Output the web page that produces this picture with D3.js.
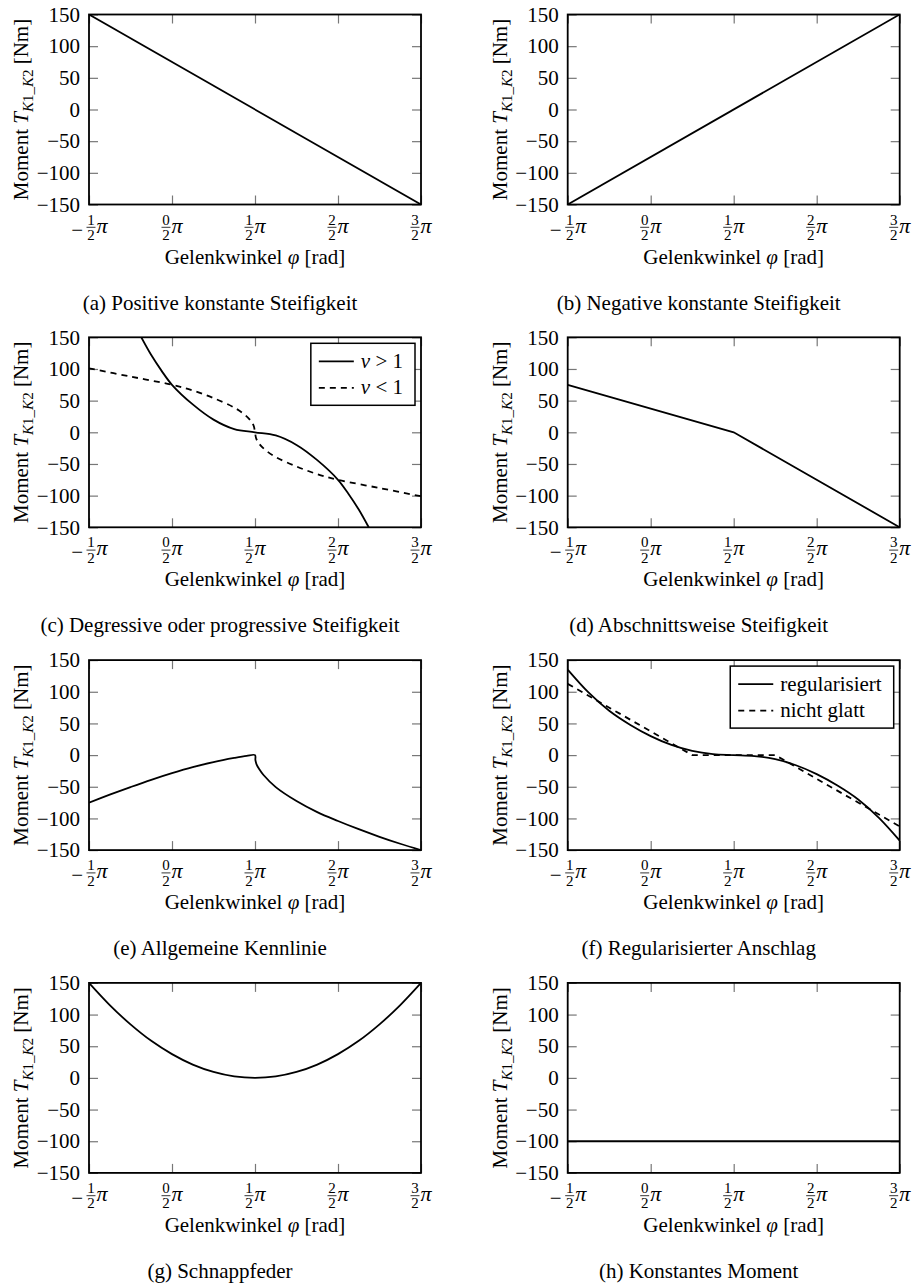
<!DOCTYPE html>
<html>
<head>
<meta charset="utf-8">
<script src="https://cdn.jsdelivr.net/npm/d3@7"></script>
<style>
  body { margin: 0; background: #fff; }
  text { font-family: "Liberation Serif", "Times New Roman", serif; fill: #000; }
</style>
</head>
<body>
<script>
// x in Vielfachen von pi/2, y in Nm
const xTicks = [-1, 0, 1, 2, 3]
const yTicks = [-150, -100, -50, 0, 50, 100, 150]

const captions = [
	'(a) Positive konstante Steifigkeit',
	'(b) Negative konstante Steifigkeit',
	'(c) Degressive oder progressive Steifigkeit',
	'(d) Abschnittsweise Steifigkeit',
	'(e) Allgemeine Kennlinie',
	'(f) Regularisierter Anschlag',
	'(g) Schnappfeder',
	'(h) Konstantes Moment'
]

const xA = [-1, 3]
const yA = [150, -150]

const xB = [-1, 3]
const yB = [-150, 150]

const xC1 = [-0.37, -0.25, -0.125, 0, 0.25, 0.5, 0.75, 1, 1.25, 1.5, 1.75, 2, 2.125, 2.25, 2.37]
const yC1 = [150, 122, 97, 75, 44, 20, 5, 0, -5, -20, -44, -75, -97, -122, -150]
const xC2 = [-1, -0.5, 0, 0.25, 0.5, 0.75, 0.875, 0.95, 0.985, 1, 1.015, 1.05, 1.125, 1.25, 1.5, 1.75, 2, 2.5, 3]
const yC2 = [101, 88, 75, 66, 54, 39, 28, 18, 10, 0, -10, -18, -28, -39, -54, -66, -75, -88, -101]

const xD = [-1, 1, 3]
const yD = [75, 0, -150]

const xE = [-1, -0.75, -0.5, -0.25, 0, 0.25, 0.5, 0.75, 0.9, 1, 1.005, 1.02, 1.05, 1.1, 1.25, 1.5, 1.75, 2, 2.25, 2.5, 2.75, 3]
const yE = [-75, -62.5, -50.5, -39, -28.5, -19, -11, -4.5, -1.2, 0, -8, -15, -22, -31, -50.5, -72.5, -90, -104, -117, -129, -140, -150]

const xF1 = [-1, -0.75, -0.5, -0.25, 0, 0.25, 0.5, 0.75, 1, 1.25, 1.5, 1.75, 2, 2.25, 2.5, 2.75, 3]
const yF1 = [135, 99, 70, 48, 30, 16, 6.5, 1.5, 0, -1.5, -6.5, -16, -30, -48, -70, -99, -135]
const xF2 = [-1, 0.5, 1.5, 3]
const yF2 = [112.5, 0, 0, -112.5]

const xG = [-1, -0.75, -0.5, -0.25, 0, 0.25, 0.5, 0.75, 1, 1.25, 1.5, 1.75, 2, 2.25, 2.5, 2.75, 3]
const yG = [150, 115, 84.5, 58.5, 37.5, 21, 9.4, 2.3, 0, 2.3, 9.4, 21, 37.5, 58.5, 84.5, 115, 150]

const xH = [-1, 3]
const yH = [-100, -100]

const zip = (xs, ys) => xs.map((x, i) => ({ x, y: ys[i] }))

// pro Teilbild: Kurven (+ evtl. Legende)
const panels = [
	{ series: [{ pts: zip(xA, yA) }] },
	{ series: [{ pts: zip(xB, yB) }] },
	{
		series: [
			{ pts: zip(xC1, yC1), smooth: true, label: ['ν', ' > 1'] },
			{ pts: zip(xC2, yC2), smooth: true, dashed: true, label: ['ν', ' < 1'] }
		],
		legend: true
	},
	{ series: [{ pts: zip(xD, yD) }] },
	{ series: [{ pts: zip(xE, yE), smooth: true }] },
	{
		series: [
			{ pts: zip(xF1, yF1), smooth: true, label: ['', 'regularisiert'] },
			{ pts: zip(xF2, yF2), dashed: true, label: ['', 'nicht glatt'] }
		],
		legend: true
	},
	{ series: [{ pts: zip(xG, yG), smooth: true }] },
	{ series: [{ pts: zip(xH, yH) }] }
]

const W = 332
const H = 190
const fs = 21

const svg = d3.select('body').append('svg').attr('width', 917).attr('height', 1284)

const xscale = d3.scaleLinear().domain([-1, 3]).range([0, W])
const yscale = d3.scaleLinear().domain([-150, 150]).range([H, 0])

svg.append('defs').append('clipPath').attr('id', 'clip')
	.append('rect').attr('width', W).attr('height', H)

panels.forEach((p, i) => {
	const left = 89 + (i % 2) * 478.7
	const top = 14.5 + Math.floor(i / 2) * 322.8
	const g = svg.append('g').attr('transform', `translate(${left},${top})`)

	// ticks auf allen vier Seiten, nach innen
	const tickStyle = sel => {
		sel.select('.domain').remove()
		sel.selectAll('.tick line').attr('stroke', '#777').attr('stroke-width', 1.2)
	}
	g.append('g')
		.call(d3.axisLeft(yscale).tickValues(yTicks).tickSize(-9).tickPadding(9))
		.call(tickStyle)
		.selectAll('text')
		.style('font-size', fs + 'px')
		.style('font-family', '"Liberation Serif", serif')
	g.append('g').attr('transform', `translate(${W},0)`)
		.call(d3.axisRight(yscale).tickValues(yTicks).tickSize(-9).tickFormat(''))
		.call(tickStyle)
	g.append('g')
		.call(d3.axisTop(xscale).tickValues(xTicks).tickSize(-9).tickFormat(''))
		.call(tickStyle)
	g.append('g').attr('transform', `translate(0,${H})`)
		.call(d3.axisBottom(xscale).tickValues(xTicks).tickSize(-9).tickFormat(''))
		.call(tickStyle)

	// x tick labels als Bruch  k/2 π
	xTicks.forEach(k => {
		const t = g.append('g').attr('transform', `translate(${xscale(k)},${H})`)
		const fx = k < 0 ? 2 : -6
		if (k < 0) {
			t.append('text').attr('x', -6).attr('y', 32).attr('text-anchor', 'end')
				.style('font-size', fs + 'px').text('−')
		}
		t.append('text').attr('x', fx).attr('y', 20).attr('text-anchor', 'middle')
			.style('font-size', '15px').text(Math.abs(k))
		t.append('line').attr('x1', fx - 4.5).attr('x2', fx + 4.5)
			.attr('y1', 22.8).attr('y2', 22.8).attr('stroke', '#000').attr('stroke-width', 0.8)
		t.append('text').attr('x', fx).attr('y', 35.5).attr('text-anchor', 'middle')
			.style('font-size', '15px').text(2)
		t.append('text').attr('x', fx + 5.5).attr('y', 28)
			.style('font-size', '22px').style('font-style', 'italic').text('π')
	})

	// Kurven
	const plot = g.append('g').attr('clip-path', 'url(#clip)')
	p.series.forEach(s => {
		const line = d3.line()
			.x(d => xscale(d.x))
			.y(d => yscale(d.y))
			.curve(s.smooth ? d3.curveCatmullRom.alpha(0.5) : d3.curveLinear)
		plot.append('path')
			.datum(s.pts)
			.attr('d', line)
			.attr('fill', 'none')
			.attr('stroke', '#000')
			.attr('stroke-width', 1.8)
			.attr('stroke-dasharray', s.dashed ? '6,5' : null)
	})

	// Rahmen
	g.append('rect').attr('width', W).attr('height', H)
		.attr('fill', 'none').attr('stroke', '#000').attr('stroke-width', 1.8)

	// Legende
	if (p.legend) {
		const lg = g.append('g')
		const box = lg.append('rect').attr('fill', '#fff').attr('stroke', '#000').attr('stroke-width', 1.5)
		let maxw = 0
		p.series.forEach((s, j) => {
			const yy = 18 + j * 26.5
			lg.append('line').attr('x1', 8).attr('x2', 43).attr('y1', yy).attr('y2', yy)
				.attr('stroke', '#000').attr('stroke-width', 1.8)
				.attr('stroke-dasharray', s.dashed ? '6,5' : null)
			const tx = lg.append('text').attr('x', 50).attr('y', yy + 6.5).style('font-size', fs + 'px')
			if (s.label[0]) tx.append('tspan').style('font-style', 'italic').text(s.label[0])
			tx.append('tspan').text(s.label[1])
			maxw = Math.max(maxw, tx.node().getComputedTextLength())
		})
		const bw = 50 + maxw + 12
		box.attr('width', bw).attr('height', 62)
		lg.attr('transform', `translate(${W - 6 - bw},6)`)
	}

	// Achsentitel
	g.append('text').attr('x', W / 2).attr('y', H + 59).attr('text-anchor', 'middle')
		.style('font-size', fs + 'px')
		.call(t => {
			t.append('tspan').text('Gelenkwinkel ')
			t.append('tspan').style('font-style', 'italic').text('φ')
			t.append('tspan').text(' [rad]')
		})

	g.append('text')
		.attr('transform', `translate(-61,${H / 2}) rotate(-90)`)
		.attr('text-anchor', 'middle')
		.style('font-size', fs + 'px')
		.call(t => {
			t.append('tspan').text('Moment ')
			t.append('tspan').style('font-style', 'italic').text('T')
			t.append('tspan').attr('dy', 5).style('font-size', '15px').style('font-style', 'italic').text('K')
			t.append('tspan').style('font-size', '15px').text('1_')
			t.append('tspan').style('font-size', '15px').style('font-style', 'italic').text('K')
			t.append('tspan').style('font-size', '15px').text('2')
			t.append('tspan').attr('dy', -5).text(' [Nm]')
		})

	// Bildunterschrift
	g.append('text').attr('x', 131).attr('y', 295).attr('text-anchor', 'middle')
		.style('font-size', fs + 'px').text(captions[i])
})
</script>
</body>
</html>
